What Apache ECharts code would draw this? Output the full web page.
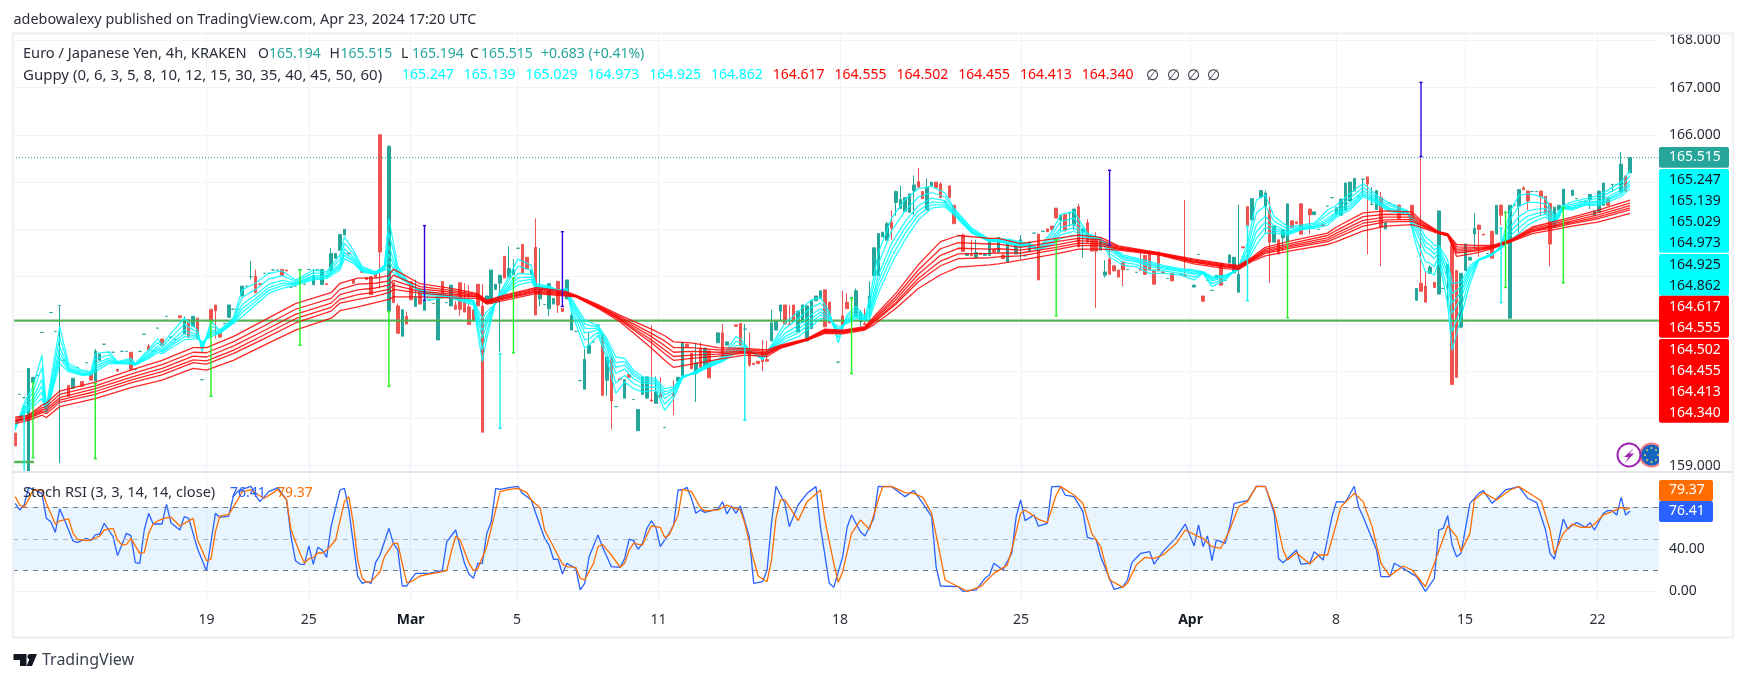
<!DOCTYPE html>
<html>
<head>
<meta charset="utf-8">
<title>Euro / Japanese Yen</title>
<script src="https://cdn.jsdelivr.net/npm/echarts@6/dist/echarts.min.js"></script>
<style>
    html, body { margin: 0; padding: 0; background: #fff; }
    #main { width: 1747px; height: 682px; }
</style>
</head>
<body>
<div id="main"></div>
<script>
    var slotCount = 370;
    var font = '"Noto Sans", sans-serif';

    // date axis
    var dateTicks = [43, 66, 88.9, 112.8, 144.6, 185.4, 226.1, 264.2, 296.9, 325.9, 355.7];
    var dateLabels = ['19', '25', 'Mar', '5', '11', '18', '25', 'Apr', '8', '15', '22'];
    var priceTicks = [159, 160, 161, 162, 163, 164, 165, 166, 167, 168];
    var stochTicks = [0, 40, 80];

    // candles: rising bodies
    var upBars = [3,4,13,18,19,38,40,48,51,67,69,71,72,73,74,84,87,90,92,95,98,106,107,108,109,111,112,116,118,120,121,124,125,128,129,133,137,140,141,142,144,149,150,153,155,158,160,170,171,172,176,177,178,179,180,181,189,190,192,193,194,195,196,198,199,200,201,202,205,206,214,216,218,219,221,223,225,226,228,235,238,240,244,245,265,270,273,274,275,278,280,281,283,285,286,292,297,298,299,300,301,306,308,315,318,320,322,325,326,327,328,333,336,338,346,347,348,350,354,355,356,357,361,363];
    var upOpen = [158.87,160.76,160.64,160.79,161.23,161.79,161.95,162.14,162.59,162.83,162.83,163.14,163.39,163.56,163.88,162.28,161.74,162.37,162.29,161.66,162.38,162.43,162.43,162.73,162.86,162.99,163.04,163.05,162.53,162.32,162.42,162.53,161.87,160.62,161.38,160.81,160.43,159.74,160.51,160.43,160.32,160.79,160.90,160.95,161.09,161.60,161.55,161.64,161.87,162.27,161.83,162.03,161.64,161.90,162.49,162.53,162.15,162.04,162.33,163.02,163.02,163.84,163.77,164.57,164.44,164.38,164.36,164.82,164.41,164.92,163.45,163.40,163.45,163.45,163.52,163.31,163.48,163.63,163.53,164.20,164.09,163.95,163.56,163.03,162.78,162.97,163.29,163.08,162.67,164.20,164.68,164.48,163.73,163.82,163.75,164.31,164.32,164.30,164.40,164.60,164.81,164.42,164.01,162.50,163.07,162.63,163.07,161.93,163.13,163.35,163.90,163.90,162.12,164.49,164.04,164.41,164.50,164.72,164.63,164.30,164.36,164.51,164.79,165.194];
    var upClose = [161.06,160.87,160.85,161.42,161.36,162.09,162.16,162.40,162.80,163.01,163.15,163.49,163.49,163.89,164.00,165.76,162.30,162.57,162.50,162.57,162.82,162.59,163.14,162.84,163.03,163.17,163.14,163.14,162.77,162.85,162.54,162.93,162.18,161.25,161.55,161.30,160.82,160.19,160.88,160.88,160.56,160.87,161.60,161.18,161.49,161.81,161.62,162.02,162.07,162.40,162.27,162.40,162.38,162.49,162.59,162.70,162.70,162.25,162.59,163.61,163.91,163.94,164.12,164.80,164.63,164.67,164.75,164.94,164.89,165.00,163.49,163.51,163.49,163.79,163.83,163.70,163.66,163.78,163.73,164.30,164.43,164.01,163.81,163.10,162.82,163.03,163.46,163.41,163.05,164.65,164.82,164.77,164.07,163.99,164.54,164.37,164.46,164.64,164.98,165.00,165.08,164.82,164.14,162.75,163.20,164.39,163.26,163.07,163.69,163.41,164.02,164.51,164.51,164.84,164.47,164.51,164.85,164.83,164.74,164.39,164.81,164.98,165.38,165.515];

    // candles: falling bodies
    var downBars = [0,12,15,17,23,26,30,33,37,39,41,44,45,46,54,55,60,61,70,75,76,78,79,80,81,82,85,86,88,89,91,96,99,100,101,102,103,104,105,110,114,115,117,122,123,132,134,136,138,143,145,148,151,152,154,156,159,162,163,165,166,167,168,169,173,174,175,182,183,186,187,191,197,203,204,207,208,210,211,213,215,217,220,222,230,232,233,234,236,239,241,242,243,246,247,248,249,253,254,255,256,257,258,260,263,267,271,276,277,282,284,287,288,289,291,294,304,307,311,314,316,317,319,323,324,329,330,332,334,339,340,343,344,345,358,362];
    var downOpen = [159.69,160.70,160.78,160.94,161.04,161.40,161.53,161.68,162.17,162.09,162.12,162.31,162.40,161.80,163.01,162.85,163.15,163.14,162.85,163.50,162.93,163.11,162.98,163.00,163.05,166.00,162.87,162.38,162.16,162.89,162.73,162.90,162.40,162.87,162.46,162.36,162.30,162.84,162.38,163.43,163.68,163.41,163.62,162.90,162.33,161.78,161.30,160.84,160.93,160.39,160.51,160.52,161.57,161.38,161.48,161.43,161.81,161.98,162.01,161.43,161.17,161.21,161.38,161.25,162.40,162.00,162.40,162.72,162.46,162.17,162.46,162.00,164.15,165.01,164.80,165.00,164.96,164.92,164.51,163.88,163.47,163.50,163.57,163.46,163.90,164.01,164.07,164.45,164.31,164.48,164.14,163.81,163.82,163.37,163.23,163.14,163.31,163.17,163.45,163.54,163.14,163.52,163.10,163.07,163.03,162.59,163.28,163.63,164.48,164.41,163.78,164.18,164.16,164.54,164.43,164.11,165.11,164.68,164.51,164.51,162.86,162.80,162.88,163.66,163.13,164.09,163.90,163.96,164.51,164.88,164.81,164.81,164.70,164.55,164.66,165.13];
    var downClose = [159.42,160.47,160.68,160.81,161.00,161.04,161.45,161.55,162.13,161.73,161.71,162.06,162.28,161.72,162.66,162.83,163.02,163.12,162.83,163.48,162.86,163.09,162.94,162.62,162.99,163.52,162.45,161.80,162.00,162.51,162.42,162.57,162.31,162.31,162.25,161.99,162.07,162.38,159.71,162.97,163.08,163.16,162.19,162.40,162.26,160.49,160.37,160.82,160.87,160.37,160.44,160.47,161.52,161.05,161.08,160.86,161.30,161.95,161.55,161.13,161.14,161.16,161.20,161.21,162.00,161.98,162.05,161.94,162.02,161.96,162.32,161.98,164.03,164.89,164.65,164.88,164.67,164.67,164.12,163.53,163.44,163.47,163.52,163.38,162.93,163.95,163.99,164.24,163.97,163.63,163.73,163.54,163.54,163.05,163.12,162.99,163.14,163.14,163.05,163.14,162.84,163.12,163.08,162.91,163.01,162.48,162.82,163.61,164.09,163.73,163.48,164.04,164.12,163.90,164.31,164.07,164.96,164.05,164.23,164.23,162.69,162.46,162.77,160.72,160.87,164.00,163.88,163.39,164.30,164.84,164.60,164.69,164.34,163.69,164.51,164.81];

    // candles: flat bars, drawn as a dash
    var flatBars = [1,2,5,6,8,9,10,11,14,16,20,21,22,24,25,27,28,29,31,32,34,35,36,42,47,49,50,52,53,56,57,58,59,62,63,64,65,66,68,93,94,97,113,119,126,127,130,131,135,139,146,164,185,188,209,212,224,227,229,231,237,250,252,259,261,262,264,266,268,269,272,293,295,296,302,303,305,309,310,312,313,321,331,335,337,341,342,349,351,352,353,359,360];
    var flatPrice = [160.51,160.44,160.91,161.82,162.24,161.84,162.39,161.23,161.08,161.18,161.57,161.40,161.40,161.42,161.42,161.03,161.42,161.78,161.42,161.91,162.16,161.72,161.67,160.82,162.01,162.31,162.31,162.80,163.00,163.07,163.07,163.14,163.14,162.78,162.80,163.15,162.84,163.15,163.15,162.51,162.43,162.45,163.60,162.41,161.84,160.80,161.62,161.97,160.25,160.40,159.81,161.89,161.19,162.56,164.58,163.86,163.75,163.44,163.92,163.96,164.34,163.15,163.09,162.96,163.39,163.05,163.15,163.47,162.92,162.71,162.92,164.00,164.49,164.67,164.70,165.06,164.53,164.55,164.51,164.35,164.35,162.75,163.49,164.36,164.51,164.80,164.80,164.14,164.65,164.59,164.59,164.95,164.95];

    // candle wicks
    var highBars = [18,30,38,53,54,67,71,86,88,90,99,101,102,105,111,112,117,118,125,128,129,143,144,145,148,153,154,159,164,165,168,169,170,174,186,187,189,190,191,192,196,197,198,199,202,203,205,208,213,215,216,226,239,241,243,245,246,253,263,275,281,282,305,307,316,317,318,328,334,339,361];
    var highPrice = [161.47,161.57,162.16,163.33,163.15,163.15,163.60,162.43,162.26,162.94,162.48,162.86,162.82,162.84,163.64,163.37,164.23,163.60,162.24,161.47,161.83,161.97,160.89,160.87,160.81,161.60,161.61,162.00,162.00,161.82,161.66,161.64,162.30,162.40,162.70,162.65,162.75,162.29,162.33,162.90,164.16,164.40,164.82,164.92,165.14,165.30,165.08,165.00,163.91,163.78,163.78,163.88,164.54,164.22,163.94,163.35,163.67,163.53,164.62,164.52,164.82,164.69,164.89,164.79,165.52,163.11,163.24,164.34,164.53,164.91,165.64];
    var lowBars = [10,39,41,45,53,71,82,100,109,118,120,122,133,134,143,148,153,164,165,168,172,190,192,197,198,202,226,235,237,238,240,243,245,249,281,282,285,291,303,304,307,322,328,329,334,338,340,343,345,354,359];
    var lowPrice = [159.06,161.69,161.66,161.69,162.94,163.08,162.75,162.17,161.41,162.37,162.16,162.23,160.48,159.77,160.35,160.07,160.35,161.55,161.09,161.00,162.07,161.94,162.01,163.78,164.29,164.31,163.37,163.95,164.06,163.99,163.40,162.34,162.98,162.80,163.90,162.87,163.54,163.90,164.70,163.47,163.22,162.36,163.59,163.42,164.09,163.93,164.41,164.29,163.22,164.43,164.79];

    // the coloured spikes
    var limeBars = [4,18,44,64,84,112,188,234,286,335,348];
    var limeTop = [160.77,160.74,162.05,163.14,162.26,162.97,162.54,163.78,163.73,164.36,164.46];
    var limeBottom = [159.17,159.15,160.47,161.55,160.68,161.39,160.95,162.17,162.13,162.77,162.87];
    var aquaBars = [2,109,164,277,334];
    var aquaTop = [160.25,161.37,161.55,164.07,164.03];
    var aquaBottom = [158.67,159.79,159.96,162.49,162.45];
    var blueBars = [92,123,246,316];
    var blueTop = [164.08,163.95,165.25,167.11];
    var blueBottom = [162.50,162.37,163.67,165.54];

    // guppy, short group
    var cyanBars = [0,2,4,6,7,10,12,15,17,18,21,23,26,27,30,32,33,35,38,41,42,44,46,49,51,54,57,60,63,67,70,73,74,76,78,81,83,84,86,88,90,93,97,103,105,106,108,111,113,116,117,120,122,124,125,128,129,131,133,135,137,139,141,144,146,148,150,153,156,159,162,163,165,168,170,173,176,179,181,183,185,187,189,191,192,194,197,200,203,206,209,211,215,219,221,224,228,230,233,235,238,241,244,246,249,252,255,258,262,265,267,269,272,275,277,279,281,283,286,289,292,295,297,300,303,306,309,313,315,317,318,319,320,322,323,325,327,329,332,334,336,338,340,342,344,346,348,350,353,356,358,361,363];
    var cyan1 = [159.75,160.32,160.67,161.34,160.25,161.94,161.16,161.02,160.99,161.37,161.41,161.20,161.27,161.16,161.46,161.69,161.55,161.80,162.12,161.87,161.41,162.05,161.87,162.12,162.72,162.86,163.07,163.12,162.93,163.14,163.10,163.46,163.84,163.56,163.21,163.10,163.24,164.23,163.21,162.93,162.75,162.50,162.57,162.40,161.20,161.69,162.50,163.00,163.37,163.24,162.85,162.80,162.71,162.75,162.26,161.49,161.55,161.76,161.27,160.53,160.77,160.63,160.56,160.60,160.17,160.42,160.85,161.01,161.17,161.31,161.73,161.69,161.45,161.24,161.55,162.01,162.26,162.51,162.56,162.26,161.60,162.19,162.37,162.15,162.51,163.50,164.24,164.63,164.86,164.91,164.77,164.45,164.03,163.79,163.81,163.78,163.70,163.60,163.95,164.31,164.38,163.92,163.81,163.42,163.24,163.21,163.07,163.07,163.03,162.93,163.07,162.79,162.93,163.21,163.70,164.62,164.73,164.27,164.06,164.09,164.13,164.41,164.51,164.76,164.97,164.72,164.55,164.39,163.63,163.10,163.10,163.03,163.35,162.43,161.44,162.14,162.85,163.35,163.45,163.66,164.37,164.72,164.75,164.72,164.65,164.27,164.51,164.58,164.65,164.72,164.83,165.00,165.247];
    var cyan2 = [159.79,160.26,160.55,161.08,160.21,161.72,161.11,160.99,160.97,161.26,161.34,161.19,161.24,161.15,161.41,161.61,161.50,161.71,161.99,161.82,161.47,161.96,161.85,162.09,162.56,162.73,162.95,163.02,162.90,163.08,163.06,163.37,163.71,163.48,163.18,163.09,163.21,163.93,163.15,162.92,162.75,162.55,162.58,162.43,161.45,161.85,162.48,162.92,163.22,163.14,162.82,162.78,162.71,162.72,162.34,161.66,161.69,161.82,161.39,160.75,160.91,160.74,160.65,160.67,160.30,160.49,160.86,160.99,161.15,161.28,161.63,161.61,161.44,161.26,161.52,161.90,162.11,162.35,162.44,162.21,161.70,162.14,162.30,162.13,162.40,163.26,163.97,164.39,164.68,164.78,164.69,164.41,164.00,163.78,163.79,163.75,163.68,163.59,163.87,164.17,164.24,163.89,163.80,163.49,163.30,163.26,163.14,163.12,163.07,162.99,163.08,162.85,162.96,163.19,163.59,164.35,164.50,164.17,164.01,164.06,164.10,164.32,164.44,164.66,164.89,164.67,164.50,164.38,163.79,163.31,163.29,163.21,163.44,162.69,161.83,162.35,162.96,163.35,163.46,163.64,164.20,164.49,164.57,164.57,164.54,164.22,164.49,164.53,164.61,164.66,164.76,164.91,165.139];
    var cyan3 = [159.83,160.19,160.44,160.83,160.17,161.51,161.07,160.96,160.95,161.16,161.27,161.18,161.20,161.14,161.36,161.53,161.45,161.63,161.87,161.77,161.53,161.87,161.83,162.06,162.41,162.61,162.84,162.92,162.87,163.02,163.02,163.28,163.59,163.41,163.15,163.07,163.19,163.65,163.09,162.90,162.75,162.60,162.59,162.46,161.70,162.00,162.46,162.84,163.07,163.05,162.80,162.76,162.70,162.69,162.41,161.81,161.82,161.88,161.50,160.95,161.05,160.84,160.74,160.73,160.42,160.56,160.88,160.98,161.13,161.25,161.54,161.54,161.43,161.28,161.50,161.80,161.97,162.20,162.32,162.16,161.79,162.09,162.23,162.11,162.28,163.03,163.71,164.16,164.50,164.66,164.61,164.37,163.97,163.76,163.77,163.72,163.66,163.58,163.80,164.04,164.11,163.86,163.80,163.56,163.36,163.31,163.21,163.16,163.11,163.05,163.09,162.91,162.99,163.17,163.49,164.10,164.28,164.08,163.96,164.04,164.07,164.23,164.37,164.57,164.82,164.63,164.45,164.36,163.94,163.51,163.47,163.38,163.52,162.94,162.22,162.55,163.06,163.36,163.47,163.62,164.04,164.27,164.39,164.43,164.44,164.17,164.47,164.49,164.57,164.60,164.69,164.83,165.029];
    var cyan4 = [159.85,160.16,160.37,160.69,160.14,161.39,161.04,160.94,160.94,161.10,161.23,161.17,161.18,161.14,161.33,161.48,161.42,161.58,161.79,161.74,161.56,161.82,161.82,162.04,162.32,162.53,162.77,162.86,162.85,162.99,163.00,163.23,163.51,163.36,163.13,163.06,163.17,163.48,163.06,162.89,162.75,162.63,162.60,162.47,161.85,162.09,162.45,162.79,162.98,162.99,162.78,162.75,162.70,162.67,162.46,161.91,161.90,161.91,161.57,161.08,161.13,160.91,160.79,160.77,160.50,160.60,160.89,160.97,161.11,161.23,161.48,161.49,161.42,161.29,161.48,161.73,161.88,162.11,162.25,162.13,161.84,162.06,162.19,162.10,162.22,162.90,163.56,164.03,164.39,164.58,164.56,164.35,163.95,163.75,163.76,163.70,163.65,163.57,163.75,163.96,164.03,163.84,163.80,163.60,163.40,163.34,163.25,163.19,163.13,163.08,163.09,162.94,163.00,163.16,163.43,163.95,164.15,164.02,163.93,164.02,164.05,164.18,164.33,164.51,164.77,164.60,164.42,164.35,164.03,163.63,163.58,163.48,163.57,163.08,162.44,162.67,163.13,163.36,163.48,163.61,163.94,164.14,164.28,164.34,164.37,164.14,164.46,164.46,164.55,164.57,164.65,164.78,164.973];
    var cyan5 = [159.87,160.12,160.31,160.56,160.12,161.28,161.02,160.93,160.93,161.05,161.20,161.17,161.17,161.13,161.30,161.44,161.40,161.54,161.73,161.72,161.59,161.78,161.81,162.03,162.24,162.47,162.71,162.81,162.84,162.96,162.98,163.19,163.45,163.32,163.12,163.06,163.16,163.33,163.03,162.89,162.75,162.65,162.60,162.49,161.97,162.17,162.44,162.75,162.90,162.94,162.77,162.74,162.70,162.66,162.50,162.00,161.97,161.94,161.63,161.18,161.20,160.96,160.83,160.80,160.56,160.63,160.89,160.96,161.10,161.22,161.43,161.45,161.42,161.30,161.47,161.68,161.81,162.03,162.19,162.11,161.89,162.04,162.16,162.09,162.16,162.78,163.42,163.91,164.30,164.52,164.52,164.33,163.94,163.75,163.75,163.69,163.64,163.57,163.71,163.89,163.96,163.83,163.79,163.63,163.43,163.36,163.28,163.21,163.15,163.11,163.10,162.97,163.02,163.15,163.38,163.81,164.04,163.97,163.91,164.01,164.04,164.14,164.30,164.46,164.73,164.58,164.40,164.35,164.11,163.73,163.67,163.57,163.61,163.21,162.64,162.78,163.18,163.36,163.48,163.60,163.86,164.03,164.19,164.27,164.32,164.12,164.45,164.44,164.53,164.54,164.62,164.74,164.925];
    var cyan6 = [159.89,160.09,160.25,160.42,160.10,161.16,160.99,160.91,160.92,160.99,161.16,161.16,161.15,161.13,161.27,161.39,161.37,161.49,161.66,161.69,161.62,161.73,161.80,162.01,162.15,162.40,162.65,162.75,162.82,162.93,162.96,163.14,163.38,163.28,163.10,163.05,163.14,163.17,163.00,162.88,162.75,162.68,162.61,162.50,162.11,162.26,162.43,162.71,162.82,162.89,162.75,162.73,162.70,162.64,162.54,162.08,162.04,161.97,161.69,161.30,161.27,161.02,160.88,160.84,160.63,160.67,160.90,160.95,161.09,161.20,161.38,161.41,161.41,161.31,161.45,161.62,161.73,161.94,162.12,162.08,161.94,162.01,162.12,162.08,162.10,162.65,163.28,163.78,164.20,164.45,164.48,164.31,163.92,163.74,163.74,163.67,163.63,163.56,163.67,163.81,163.88,163.81,163.79,163.67,163.46,163.39,163.32,163.24,163.17,163.14,163.10,163.00,163.03,163.14,163.32,163.67,163.92,163.92,163.88,163.99,164.02,164.09,164.26,164.41,164.69,164.55,164.37,164.34,164.19,163.84,163.77,163.66,163.66,163.35,162.85,162.89,163.24,163.36,163.49,163.59,163.77,163.91,164.09,164.19,164.26,164.09,164.44,164.41,164.51,164.51,164.58,164.69,164.862];

    // guppy, long group
    var redBars = [0,3,6,7,10,18,26,33,40,43,49,56,63,71,73,77,81,84,85,91,98,104,106,110,117,124,126,131,136,143,146,148,152,158,164,169,172,178,182,186,191,193,198,203,208,212,219,221,226,234,239,244,248,257,265,272,275,278,281,287,295,297,303,308,314,316,320,322,324,328,332,336,341,345,350,356,363];
    var red1 = [160.03,160.07,160.28,160.32,160.58,160.77,161.02,161.23,161.50,161.50,161.73,162.08,162.43,162.66,162.86,162.97,162.97,163.02,163.16,162.85,162.75,162.64,162.50,162.61,162.77,162.68,162.61,162.41,162.18,161.89,161.75,161.62,161.60,161.50,161.48,161.45,161.55,161.69,161.89,161.87,161.94,162.15,162.65,163.25,163.74,163.87,163.81,163.81,163.70,163.81,163.88,163.83,163.65,163.51,163.37,163.27,163.24,163.41,163.62,163.76,163.92,164.05,164.35,164.39,164.37,164.19,163.95,163.91,163.68,163.66,163.66,163.77,164.05,164.14,164.26,164.41,164.617];
    var red2 = [160.00,160.05,160.23,160.25,160.51,160.69,160.94,161.14,161.40,161.39,161.62,161.96,162.31,162.54,162.73,162.84,162.86,162.91,163.03,162.79,162.71,162.62,162.48,162.59,162.74,162.66,162.60,162.39,162.15,161.80,161.64,161.50,161.50,161.45,161.45,161.42,161.53,161.68,161.87,161.85,161.92,162.11,162.58,163.14,163.59,163.72,163.69,163.69,163.62,163.74,163.81,163.78,163.63,163.50,163.35,163.25,163.22,163.39,163.58,163.71,163.87,163.98,164.27,164.32,164.31,164.16,163.94,163.90,163.63,163.62,163.64,163.76,164.02,164.10,164.22,164.36,164.555];
    var red3 = [159.97,160.02,160.19,160.20,160.44,160.63,160.87,161.06,161.32,161.30,161.53,161.86,162.20,162.44,162.62,162.72,162.76,162.82,162.92,162.74,162.67,162.60,162.47,162.56,162.72,162.64,162.59,162.38,162.12,161.73,161.54,161.40,161.42,161.40,161.42,161.39,161.52,161.67,161.85,161.84,161.91,162.08,162.52,163.05,163.45,163.60,163.58,163.59,163.56,163.67,163.76,163.73,163.61,163.49,163.33,163.23,163.20,163.37,163.55,163.67,163.82,163.92,164.19,164.26,164.26,164.13,163.93,163.89,163.58,163.59,163.63,163.75,163.99,164.07,164.18,164.31,164.502];
    var red4 = [159.95,160.01,160.16,160.15,160.39,160.57,160.81,160.99,161.24,161.22,161.44,161.77,162.11,162.35,162.52,162.62,162.67,162.73,162.82,162.69,162.63,162.58,162.45,162.55,162.69,162.63,162.59,162.36,162.10,161.66,161.45,161.31,161.34,161.36,161.40,161.37,161.51,161.67,161.84,161.82,161.90,162.05,162.46,162.96,163.33,163.48,163.49,163.50,163.50,163.62,163.71,163.69,163.60,163.48,163.31,163.21,163.19,163.36,163.52,163.64,163.78,163.87,164.13,164.20,164.21,164.10,163.93,163.88,163.54,163.56,163.62,163.75,163.97,164.05,164.15,164.27,164.455];
    var red5 = [159.93,159.99,160.13,160.10,160.34,160.51,160.75,160.92,161.18,161.15,161.37,161.69,162.02,162.27,162.44,162.52,162.59,162.66,162.73,162.65,162.60,162.57,162.44,162.53,162.67,162.61,162.58,162.35,162.08,161.60,161.37,161.23,161.27,161.32,161.38,161.35,161.50,161.66,161.82,161.81,161.89,162.03,162.42,162.89,163.23,163.38,163.40,163.42,163.44,163.57,163.66,163.65,163.58,163.47,163.30,163.20,163.17,163.34,163.49,163.61,163.74,163.82,164.07,164.16,164.17,164.08,163.92,163.87,163.50,163.54,163.61,163.74,163.95,164.02,164.12,164.23,164.413];
    var red6 = [159.89,159.96,160.07,160.02,160.25,160.42,160.65,160.81,161.06,161.02,161.23,161.55,161.87,162.12,162.28,162.36,162.45,162.52,162.57,162.57,162.55,162.54,162.42,162.50,162.64,162.59,162.57,162.33,162.04,161.49,161.23,161.08,161.15,161.25,161.34,161.31,161.48,161.65,161.80,161.79,161.87,161.98,162.33,162.75,163.04,163.20,163.25,163.27,163.35,163.48,163.58,163.58,163.56,163.46,163.27,163.17,163.15,163.32,163.44,163.55,163.68,163.74,163.97,164.07,164.10,164.04,163.91,163.86,163.43,163.49,163.59,163.73,163.91,163.98,164.07,164.16,164.34];

    // stoch rsi, %K
    var kBars = [
        0,1,2,3,4,6,7,8,9,10, 11,12,13,14,16,17,18,19,20,21, 22,23,25,26,27,28,29,30,31,33, 34,35,37,38,39,41,43,45,46,48,
        49,50,51,53,54,55,57,59,61,62, 63,64,65,66,67,68,69,70,71,73, 74,75,76,77,78,79,80,81,82,84, 85,86,87,88,89,90,93,96,97,99,
        101,102,103,104,105,106,107,108,109,111, 113,114,116,117,119,120,121,122,123,124, 126,127,128,129,131,132,134,136,137,138, 139,140,141,142,143,144,145,147,148,149,
        150,151,152,153,154,155,158,159,160,161, 162,163,165,166,168,169,170,171,173,174, 176,178,180,181,183,184,186,187,188,190, 191,193,194,197,199,200,202,204,206,207,
        208,212,213,216,218,219,220,222,224,225, 226,227,229,230,232,233,235,236,238,240, 241,243,244,247,249,250,251,253,255,256, 258,261,263,265,266,267,268,269,270,272,
        273,274,277,279,281,283,284,285,288,289, 291,292,294,296,297,299,301,302,303,306, 307,309,310,312,315,317,319,320,321,322, 323,324,325,327,329,330,332,335,338,340,
        342,344,345,346,348,349,350,351,353,354, 355,357,358,359,360,361,362,363
    ];
    var kValues = [
        83.8,77.5,82.2,98.7,97.1,93.3,69.5,66.3,56.2,78.4, 68.9,58.4,47.9,46.7,50.5,48.3,53.7,54.6,64.8,58.4, 52.1,34,55.2,53,27.3,26.7,58.4,74.3,64.1,64.1, 82.9,65.4,58.4,71.1,69.5,40.3,19.4,74.3,70.5,71.7,
        90.2,94.9,97.1,100,91.7,85.4,94.9,98.7,87,52.1, 29.2,26,25.7,43.2,25.7,41.9,39.4,32.4,61.6,96.5, 98.1,77.5,45.7,14,7.6,9.2,7.6,27.3,34.6,60, 45.7,39.4,5.1,5.1,11.4,17.1,17.1,19.7,47,58.4,
        26.7,16.5,12.4,26.7,26.7,55.2,66.3,98.1,97.1,98.7, 100,93.3,87,74.3,50.5,44.1,30.5,30.5,16.5,26.7, 21.9,1.3,7.6,33,53.7,42.5,23.5,22.9,31.4,49.8, 48.3,40,45.7,60,67,61,42.5,55.2,63.2,96.5,
        96.5,99,88.6,74.3,77.5,75.2,78.4,85.4,73.7,81.3, 74.3,81.3,52.1,7.6,9.2,20.3,64.8,100,83.8,61.6, 82.2,93.3,99.7,61.6,7.6,3.8,33,61,72.7,56.8, 52.7,69.5,100,99.7,93.3,90.2,95.9,83.8,71.1,23.5,
        5.1,4.4,0,1.3,12.4,15.6,26.7,20.3,36.2,71.1, 87,67.3,72.7,62.2,64.8,99.7,100,91.7,90.2,75.9, 51.4,48.9,33,1.9,4.4,10.8,27.3,36.2,37.8,26, 37.8,51.4,64.1,43.2,63.2,42.5,52.7,29.2,48.9,45.7,
        61.6,83.8,86.3,100,100,74.3,31.1,27.3,39.4,26, 26.7,37.8,29.8,71.1,85.4,84.8,100,80,71.1,39.4, 14,14,26.7,21.9,14,0,12.4,58.4,60,72, 44.1,33,36.2,83.8,93.3,95.9,83.8,96.5,99.7,88.6,
        84.4,58.4,36.2,30.8,68.9,59,63.2,65.4,61,65.4, 58.4,74.3,76.8,76.8,72.7,89.5,72.7,76.41
    ];

    // stoch rsi, %D
    var dBars = [
        0,1,2,3,4,6,7,9,10,12, 13,14,16,17,19,20,22,23,24,25, 26,28,29,30,31,32,34,35,37,40, 41,43,44,45,46,48,50,51,53,55,
        56,58,59,61,62,64,65,66,67,68, 69,70,72,74,75,76,77,78,79,80, 82,83,85,86,87,88,89,91,93,95, 97,98,99,100,102,103,104,106,108,109,
        111,113,115,116,118,119,121,123,124,126, 127,128,130,131,132,134,136,137,138,139, 141,142,143,145,146,147,149,150,152,154,
        155,158,160,161,163,164,166,167,169,170, 171,172,173,176,178,181,182,184,185,186, 188,190,192,194,195,197,200,202,204,206, 208,209,212,214,217,220,223,224,226,227,
        230,232,234,235,238,240,242,244,246,249, 250,252,254,256,258,261,263,266,267,269, 271,273,275,277,279,281,283,285,286,288, 291,293,295,297,298,301,303,305,307,309,
        312,314,317,319,322,324,325,327,328,330, 333,336,338,341,343,345,346,348,350,352, 354,355,357,359,361,362,363
    ];
    var dValues = [
        90.2,82.2,80,87.3,96.5,96.5,83.8,64.1,67,68.9, 55.2,49.5,48.3,48.9,52.7,58.4,60,48.9,44.1,44.7, 50.5,36.2,36.8,55.2,64.1,67,70.2,70.5,62.2,69.5, 48.9,29.2,30.5,56.8,71.7,73.3,87,94.9,96.5,90.8,
        88.6,94,97.1,87,58.4,36.2,27,31.1,32.1,36.5, 36.5,39.1,48.6,85.4,90.2,64.8,29.8,12.4,8.6,9.2, 18.7,33,45.7,45.7,26.7,8.2,9.2,14.6,16.5,17.8, 19.7,37.5,52.4,49.2,26.7,19.7,21.9,42.5,77.5,94.9,
        97.1,98.1,94,87,79.4,58.4,42.5,26,23.5,22.9, 12.4,10.8,26.7,42.5,44.7,34.6,22.9,26.7,39.4,45.7, 44.1,53.7,62.2,61,51.4,53.7,72.7,97.1,94.9,80,
        76.5,77.5,82.2,80,77.5,64.8,29.8,14.6,9.2,29.8, 69.5,87,87,67.3,85.4,96.5,67.9,26.7,8.6,18.7, 55.2,67.9,59,87,99.7,100,94,93.3,89.5,74.3, 33,10.8,4.4,0,4.4,17.1,25,39.4,74.3,77.5,
        68.6,65.4,91.7,99.7,91.7,83.8,55.2,42.5,10.8,3.8, 7.6,25,32.4,31.4,34.6,45.7,58.4,52.1,50.5,42.5, 41,58.4,80.6,85.4,100,99.7,77.5,39.4,29.8,36.8, 26,34.6,34.6,64.8,80.6,93.3,85.4,61.6,26.7,14.6,
        24.1,20.3,4.4,26.7,62.2,52.1,37.8,55.2,87,94, 87,96.5,99.7,91.7,86.3,58.4,35.6,55.2,64.1,61, 61,64.1,72.7,75.9,80,78.1,79.37
    ];

    function pairs(bars, values) {
        return bars.map(function (bar, i) { return [bar, values[i]]; });
    }

    // one row per slot: [open, close, low, high]
    function buildCandles() {
        var rows = [];
        for (var n = 0; n < slotCount; n++) rows.push(['-', '-', '-', '-']);
        function put(bar, open, close) {
            rows[bar] = [open, close, Math.min(open, close), Math.max(open, close)];
        }
        upBars.forEach(function (bar, i) { put(bar, upOpen[i], upClose[i]); });
        downBars.forEach(function (bar, i) { put(bar, downOpen[i], downClose[i]); });
        flatBars.forEach(function (bar, i) { put(bar, flatPrice[i], flatPrice[i]); });
        highBars.forEach(function (bar, i) { rows[bar][3] = highPrice[i]; });
        lowBars.forEach(function (bar, i) { rows[bar][2] = lowPrice[i]; });
        return rows;
    }

    function renderSpike(params, api) {
        var top = api.coord([api.value(0), api.value(1)]);
        var bottom = api.coord([api.value(0), api.value(2)]);
        var style = { stroke: api.visual('color'), lineWidth: 1.4 };
        var cap = 1.6;
        return {
            type: 'group',
            children: [
                { type: 'line', shape: { x1: top[0], y1: top[1], x2: bottom[0], y2: bottom[1] }, style: style },
                { type: 'line', shape: { x1: top[0] - cap, y1: top[1], x2: top[0] + cap, y2: top[1] }, style: style },
                { type: 'line', shape: { x1: top[0] - cap, y1: bottom[1], x2: top[0] + cap, y2: bottom[1] }, style: style }
            ]
        };
    }

    function spikeSeries(color, bars, tops, bottoms) {
        return {
            type: 'custom', xAxisIndex: 1, yAxisIndex: 0, z: 6, clip: true,
            itemStyle: { color: color },
            renderItem: renderSpike,
            data: bars.map(function (bar, i) { return [bar, tops[i], bottoms[i]]; })
        };
    }

    function guppySeries(color, bars, values) {
        return {
            type: 'line', xAxisIndex: 1, yAxisIndex: 0, z: 4, symbol: 'none', silent: true,
            lineStyle: { color: color, width: 1.3, opacity: 0.85 },
            data: pairs(bars, values)
        };
    }

    function flatLine(price, from, to, width, color, type, opacity) {
        return {
            type: 'line', xAxisIndex: 1, yAxisIndex: 0, z: 3, symbol: 'none', silent: true,
            lineStyle: { color: color, width: width, type: type, opacity: opacity },
            data: [[from, price], [to, price]]
        };
    }

    // overlay text and shapes
    var lastPrice = 165.515;
    var headerLine = 'adebowalexy published on TradingView.com, Apr 23, 2024 17:20 UTC';
    var guppyTitle = 'Guppy (0, 6, 3, 5, 8, 10, 12, 15, 30, 35, 40, 45, 50, 60)';
    var guppyLegend = ['165.247', '165.139', '165.029', '164.973', '164.925', '164.862', '164.617', '164.555', '164.502', '164.455', '164.413', '164.340'];
    var tagText = ['165.247', '165.139', '165.029', '164.973', '164.925', '164.862', '164.617', '164.555', '164.502', '164.455', '164.413', '164.340'];
    var tagCentre = [179.7, 200.7, 221.7, 242.7, 264.7, 285.7, 306.7, 327.7, 349.7, 370.7, 391.7, 412.7];

    function label(x, y, text, color, size, weight) {
        return {
            type: 'text', x: x, y: y, z: 101, silent: true,
            style: { text: text, fill: color, font: (weight || 'normal') + ' ' + (size || 14) + 'px ' + font, verticalAlign: 'middle', align: 'left' }
        };
    }

    function box(x, y, w, h, color, r) {
        return { type: 'rect', z: 100, silent: true, shape: { x: x, y: y, width: w, height: h, r: r || 0 }, style: { fill: color } };
    }

    function buildGraphic() {
        var dark = '#2a2e39', teal = '#26a69a';
        var g = [];
        // frame and pane separator
        g.push({ type: 'rect', z: 20, silent: true, shape: { x: 13, y: 33.5, width: 1720, height: 604 }, style: { fill: 'none', stroke: '#f0f0f6', lineWidth: 2.4 } });
        g.push({ type: 'line', z: 20, silent: true, shape: { x1: 13, y1: 472, x2: 1733, y2: 472 }, style: { stroke: '#e3e4ec', lineWidth: 2 } });

        // header
        g.push(label(13.5, 20, headerLine, dark, 14.4));
        g.push(label(23, 53.7, 'Euro / Japanese Yen, 4h, KRAKEN', dark, 14.6));
        var ohlc = [['O', '165.194', 258], ['H', '165.515', 329.5], ['L', '165.194', 401], ['C', '165.515', 470]];
        ohlc.forEach(function (item) {
            g.push(label(item[2], 53.7, item[0], dark));
            g.push(label(item[2] + 11, 53.7, item[1], teal));
        });
        g.push(label(541, 53.7, '+0.683 (+0.41%)', teal));
        g.push(label(23, 75.3, guppyTitle, dark, 15));
        guppyLegend.forEach(function (text, i) {
            g.push(label(402 + i * 61.8, 75.3, text, i < 6 ? '#00ffff' : '#ff0000'));
        });
        [1146, 1167, 1187, 1207].forEach(function (x) { g.push(label(x, 75.3, '∅', dark, 15)); });

        // stoch legend
        g.push(label(23, 493.3, 'Stoch RSI (3, 3, 14, 14, close)', dark, 14.6));
        g.push(label(230, 493.3, '76.41', '#2962ff'));
        g.push(label(277, 493.3, '79.37', '#ff6d00'));

        // price tags
        g.push(box(1659, 147, 70, 20.7, teal, 2));
        g.push(label(1669, 157.3, lastPrice.toFixed(3), '#fff'));
        g.push(box(1659, 169, 70, 83.7, '#00ffff', 2));
        g.push(box(1659, 254, 70, 41.7, '#00ffff', 2));
        g.push(box(1659, 295.7, 70, 42, '#ff0000', 2));
        g.push(box(1659, 339, 70, 83.7, '#ff0000', 2));
        tagText.forEach(function (text, i) {
            g.push(label(1669, tagCentre[i], text, i < 6 ? '#131722' : '#fff'));
        });
        g.push(box(1659, 480, 54, 21, '#ff6d00', 2));
        g.push(box(1659, 501, 54, 21, '#2962ff', 2));
        g.push(label(1669, 490.5, '79.37', '#fff'));
        g.push(label(1669, 511.5, '76.41', '#fff'));

        // the two small badges near the axis
        g.push({ type: 'circle', z: 30, silent: true, shape: { cx: 1651.5, cy: 455, r: 11.5 }, style: { fill: '#1565c0', stroke: '#f77c80', lineWidth: 2 } });
        [[1651.5, 448], [1656, 450], [1658, 455], [1656, 460], [1651.5, 462], [1647, 460], [1645, 455], [1647, 450]].forEach(function (p) {
            g.push({ type: 'circle', z: 31, silent: true, shape: { cx: p[0], cy: p[1], r: 0.9 }, style: { fill: '#ffd54f' } });
        });
        g.push({ type: 'circle', z: 32, silent: true, shape: { cx: 1629, cy: 455, r: 11.5 }, style: { fill: '#fff', stroke: '#9c27b0', lineWidth: 2 } });
        g.push({ type: 'polygon', z: 33, silent: true, shape: { points: [[1634, 448], [1624, 457], [1628.5, 457], [1625, 463], [1634, 453.5], [1629.5, 453.5]] }, style: { fill: '#9c27b0' } });
        g.push({ type: 'rect', z: 34, silent: true, shape: { x: 1659, y: 440, width: 9, height: 30 }, style: { fill: '#fff' } });

        // footer logo
        g.push({ type: 'polygon', z: 20, silent: true, shape: { points: [[13.5, 654], [26.5, 654], [26.5, 666], [20, 666], [20, 660], [13.5, 660]] }, style: { fill: '#131722' } });
        g.push({ type: 'circle', z: 20, silent: true, shape: { cx: 30, cy: 656.6, r: 2.6 }, style: { fill: '#131722' } });
        g.push({ type: 'polygon', z: 20, silent: true, shape: { points: [[32, 666], [37, 654], [30.5, 654], [29, 660], [26.7, 666]] }, style: { fill: '#131722' } });
        g.push(label(42, 660.7, 'TradingView', '#3c4150', 16));
        return g;
    }

    var chart = echarts.init(document.getElementById('main'), null, { renderer: 'canvas' });

    var gridLine = { show: true, lineStyle: { color: '#f0f3fa', width: 1 } };

    var series = [
        flatLine(162.07, -0.5, 369.5, 2.4, '#4caf50', 'solid', 0.95),
        flatLine(159.08, -0.5, 4.2, 2.4, '#4caf50', 'solid', 0.95),
        {
            type: 'candlestick', xAxisIndex: 0, yAxisIndex: 0, z: 2, barWidth: 3, silent: true,
            itemStyle: {
                color: '#26a69a', color0: '#ef5350', borderColor: '#26a69a', borderColor0: '#ef5350',
                borderColorDoji: '#26a69a', borderWidth: 1
            },
            data: buildCandles()
        },
        guppySeries('#00ffff', cyanBars, cyan1),
        guppySeries('#00ffff', cyanBars, cyan2),
        guppySeries('#00ffff', cyanBars, cyan3),
        guppySeries('#00ffff', cyanBars, cyan4),
        guppySeries('#00ffff', cyanBars, cyan5),
        guppySeries('#00ffff', cyanBars, cyan6),
        guppySeries('#ff0000', redBars, red1),
        guppySeries('#ff0000', redBars, red2),
        guppySeries('#ff0000', redBars, red3),
        guppySeries('#ff0000', redBars, red4),
        guppySeries('#ff0000', redBars, red5),
        guppySeries('#ff0000', redBars, red6),
        spikeSeries('#22ee22', limeBars, limeTop, limeBottom),
        spikeSeries('#12f2ea', aquaBars, aquaTop, aquaBottom),
        spikeSeries('#3300dd', blueBars, blueTop, blueBottom),
        flatLine(lastPrice, -0.5, 369.5, 1, '#1f9086', [1, 2], 1),
        {
            type: 'line', xAxisIndex: 2, yAxisIndex: 1, z: 4, symbol: 'none', silent: true,
            lineStyle: { color: '#2962ff', width: 1.3 },
            data: pairs(kBars, kValues),
            markArea: {
                silent: true,
                itemStyle: { color: 'rgba(33,150,243,0.1)' },
                data: [[{ yAxis: 80 }, { yAxis: 20 }]]
            },
            markLine: {
                silent: true, symbol: 'none', label: { show: false },
                data: [
                    { yAxis: 80, lineStyle: { color: '#787b86', type: [5, 5], width: 1 } },
                    { yAxis: 50, lineStyle: { color: '#b2b5be', type: [5, 5], width: 1 } },
                    { yAxis: 20, lineStyle: { color: '#787b86', type: [5, 5], width: 1 } }
                ]
            }
        },
        {
            type: 'line', xAxisIndex: 2, yAxisIndex: 1, z: 5, symbol: 'none', silent: true,
            lineStyle: { color: '#ff6d00', width: 1.3 },
            data: pairs(dBars, dValues)
        }
    ];

    var slots = [];
    for (var s = 0; s < slotCount; s++) slots.push(String(s));

    var option = {
        animation: false,
        backgroundColor: '#fff',
        textStyle: { fontFamily: font },
        grid: [
            { left: 13, right: 88, top: 34, bottom: 210 },
            { left: 13, right: 88, top: 473, bottom: 79 }
        ],
        xAxis: [
            { type: 'category', gridIndex: 0, data: slots, show: false, boundaryGap: true },
            {
                type: 'value', gridIndex: 0, min: -0.5, max: 369.5,
                axisLine: { show: false }, axisLabel: { show: false },
                axisTick: { show: false, customValues: dateTicks },
                splitLine: gridLine
            },
            {
                type: 'value', gridIndex: 1, min: -0.5, max: 369.5,
                axisLine: { show: false },
                axisTick: { show: false, customValues: dateTicks },
                axisLabel: {
                    customValues: dateTicks, margin: 10, fontSize: 14, color: '#2a2e39', fontFamily: font,
                    formatter: function (value) {
                        var name = dateLabels[dateTicks.indexOf(value)];
                        return /[A-Z]/.test(name) ? '{bold|' + name + '}' : name;
                    },
                    rich: { bold: { fontWeight: 'bold', fontSize: 14, fontFamily: font, color: '#131722' } }
                },
                splitLine: gridLine
            }
        ],
        yAxis: [
            {
                type: 'value', gridIndex: 0, position: 'right', min: 158.867, max: 168.133,
                axisLine: { show: false },
                axisTick: { show: false, customValues: priceTicks },
                axisLabel: {
                    customValues: priceTicks, margin: 10, fontSize: 14, color: '#2a2e39', fontFamily: font,
                    formatter: function (value) { return value.toFixed(3); }
                },
                splitLine: gridLine
            },
            {
                type: 'value', gridIndex: 1, position: 'right', min: -11.1, max: 112.67,
                axisLine: { show: false },
                axisTick: { show: false, customValues: stochTicks },
                axisLabel: {
                    customValues: stochTicks, margin: 10, fontSize: 14, color: '#2a2e39', fontFamily: font,
                    formatter: function (value) { return value.toFixed(2); }
                },
                splitLine: gridLine
            }
        ],
        graphic: buildGraphic(),
        series: series
    };

    chart.setOption(option);
</script>
</body>
</html>
